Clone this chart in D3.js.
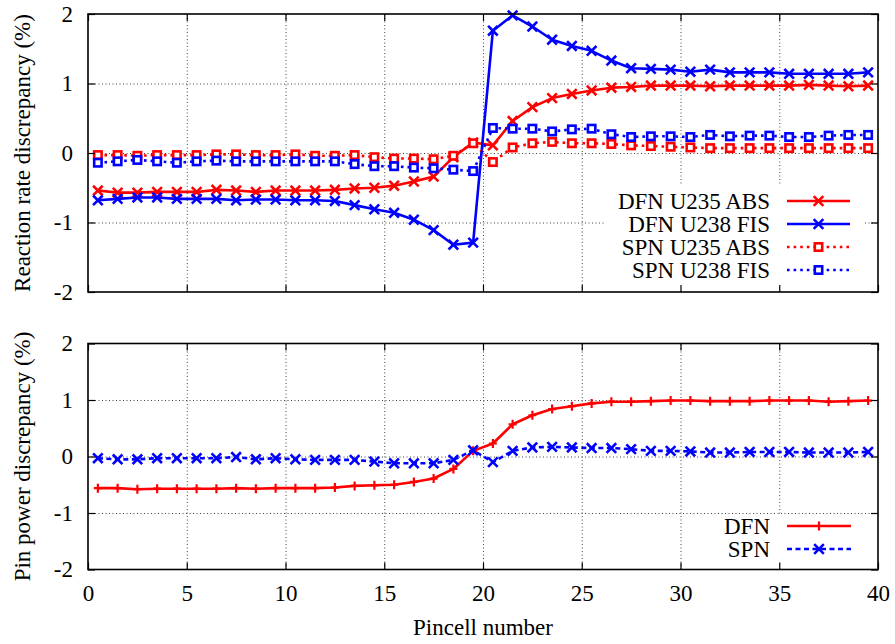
<!DOCTYPE html>
<html>
<head>
<meta charset="utf-8">
<script src="https://cdn.jsdelivr.net/npm/d3@7/dist/d3.min.js"></script>
<style>
  html, body { margin: 0; padding: 0; background: #fff; }
  svg { display: block; }
  svg text { font-family: 'Liberation Serif', Tinos, 'Nimbus Roman', 'DejaVu Serif', serif !important; fill: #000; }
</style>
</head>
<body>
<svg id="chart" width="895" height="644"></svg>
<script>
// Pincell centres along the traverse
const pins = [0.5, 1.5, 2.5, 3.5, 4.5, 5.5, 6.5, 7.5, 8.5, 9.5,
  10.5, 11.5, 12.5, 13.5, 14.5, 15.5, 16.5, 17.5, 18.5, 19.5,
  20.5, 21.5, 22.5, 23.5, 24.5, 25.5, 26.5, 27.5, 28.5, 29.5,
  30.5, 31.5, 32.5, 33.5, 34.5, 35.5, 36.5, 37.5, 38.5, 39.5];

// Reaction rate discrepancy (%)
const dfnU235Abs = [-0.54, -0.57, -0.57, -0.56, -0.56, -0.56, -0.53, -0.54, -0.56, -0.54,
  -0.54, -0.54, -0.53, -0.51, -0.50, -0.47, -0.41, -0.34, -0.06, 0.15,
  0.11, 0.46, 0.66, 0.79, 0.85, 0.90, 0.94, 0.95, 0.97, 0.97,
  0.97, 0.96, 0.97, 0.97, 0.97, 0.97, 0.98, 0.97, 0.96, 0.97];
const dfnU238Fis = [-0.68, -0.66, -0.64, -0.64, -0.66, -0.66, -0.66, -0.68, -0.67, -0.67,
  -0.68, -0.68, -0.69, -0.75, -0.81, -0.86, -0.96, -1.11, -1.32, -1.29,
  1.76, 1.98, 1.82, 1.63, 1.54, 1.47, 1.33, 1.22, 1.21, 1.20,
  1.17, 1.20, 1.16, 1.16, 1.16, 1.14, 1.14, 1.14, 1.14, 1.16];
const spnU235Abs = [-0.03, -0.03, -0.04, -0.03, -0.03, -0.03, -0.02, -0.02, -0.03, -0.03,
  -0.02, -0.04, -0.04, -0.03, -0.06, -0.08, -0.08, -0.09, -0.04, 0.14,
  -0.13, 0.08, 0.14, 0.16, 0.14, 0.14, 0.13, 0.11, 0.10, 0.09,
  0.08, 0.07, 0.07, 0.07, 0.07, 0.07, 0.07, 0.07, 0.07, 0.07];
const spnU238Fis = [-0.14, -0.12, -0.10, -0.12, -0.14, -0.12, -0.11, -0.12, -0.12, -0.12,
  -0.12, -0.12, -0.12, -0.16, -0.19, -0.19, -0.21, -0.22, -0.24, -0.26,
  0.36, 0.35, 0.35, 0.31, 0.34, 0.35, 0.27, 0.23, 0.24, 0.24,
  0.23, 0.26, 0.24, 0.25, 0.25, 0.23, 0.23, 0.25, 0.26, 0.26];

// Pin power discrepancy (%)
const dfnPower = [-0.56, -0.56, -0.58, -0.57, -0.57, -0.57, -0.57, -0.56, -0.57, -0.56,
  -0.56, -0.56, -0.55, -0.52, -0.51, -0.50, -0.45, -0.39, -0.22, 0.10,
  0.23, 0.57, 0.73, 0.84, 0.89, 0.94, 0.97, 0.97, 0.98, 0.99,
  0.99, 0.98, 0.98, 0.98, 0.99, 0.99, 0.99, 0.97, 0.98, 0.99];
const spnPower = [-0.03, -0.05, -0.05, -0.03, -0.03, -0.03, -0.03, -0.01, -0.05, -0.03,
  -0.05, -0.06, -0.06, -0.06, -0.09, -0.12, -0.12, -0.12, -0.06, 0.11,
  -0.10, 0.10, 0.16, 0.17, 0.16, 0.15, 0.15, 0.13, 0.10, 0.10,
  0.09, 0.07, 0.07, 0.08, 0.08, 0.08, 0.07, 0.07, 0.07, 0.08];

const xTicks = [0, 5, 10, 15, 20, 25, 30, 35, 40];
const yTicks = [-2, -1, 0, 1, 2];

const RED = "#ff0000", BLUE = "#0000ff";
const FONT = 23;
const FAMILY = "'Liberation Serif', Tinos, 'Nimbus Roman', 'DejaVu Serif', serif";
const plain = d => String(d);   // hyphen-minus, as on a gnuplot axis

const svg = d3.select("#chart");
const x = d3.scaleLinear().domain([0, 40]).range([88, 878]);

// marker glyphs
function drawMarker(g, type, color) {
  if (type === "cross") {
    g.append("path").attr("d", "M-4.8,-4.8L4.8,4.8M-4.8,4.8L4.8,-4.8")
      .attr("stroke", color).attr("stroke-width", 2.6).attr("fill", "none");
  } else if (type === "square") {
    g.append("rect").attr("x", -3.7).attr("y", -3.7).attr("width", 7.4).attr("height", 7.4)
      .attr("stroke", color).attr("stroke-width", 2.6).attr("fill", "#fff");
  } else if (type === "plus") {
    g.append("path").attr("d", "M-4,0L4,0M0,-4.5L0,4.5")
      .attr("stroke", color).attr("stroke-width", 2.2).attr("fill", "none");
  }
}

function panel(cfg) {
  const y = d3.scaleLinear().domain([-2, 2]).range([cfg.bottom, cfg.top]);
  const g = svg.append("g");
  const w = x.range()[1] - x.range()[0];
  const h = cfg.bottom - cfg.top;

  // dotted grid
  const grid = g.append("g").attr("class", "grid");
  grid.append("g").attr("transform", `translate(0,${cfg.bottom})`)
    .call(d3.axisBottom(x).tickValues(xTicks.filter(t => t > 0 && t < 40)).tickSize(-h).tickFormat(""))
    .call(s => s.select(".domain").remove());
  grid.append("g").attr("transform", `translate(${x(0)},0)`)
    .call(d3.axisLeft(y).tickValues(yTicks.filter(t => t > -2 && t < 2)).tickSize(-w).tickFormat(""))
    .call(s => s.select(".domain").remove());
  grid.selectAll("line").attr("stroke", "#444").attr("stroke-width", 1).attr("stroke-dasharray", "1,2.5");

  // legend background (opaque key box)
  g.append("rect").attr("x", cfg.legend.box[0]).attr("y", cfg.legend.box[1])
    .attr("width", cfg.legend.box[2]).attr("height", cfg.legend.box[3]).attr("fill", "#fff");

  // series
  cfg.series.forEach(s => {
    const pts = pins.map((p, i) => [p, s.values[i]]);
    g.append("path").datum(pts)
      .attr("d", d3.line().x(d => x(d[0])).y(d => y(d[1])))
      .attr("fill", "none").attr("stroke", s.color).attr("stroke-width", 2.6)
      .attr("stroke-dasharray", s.dash || null).attr("stroke-linejoin", "round");
    const mk = g.append("g");
    pts.forEach(d => {
      const m = mk.append("g").attr("transform", `translate(${x(d[0])},${y(d[1])})`);
      drawMarker(m, s.marker, s.color);
    });
  });

  // legend entries
  const lg = g.append("g");
  cfg.series.forEach((s, i) => {
    const yy = cfg.legend.y0 + i * cfg.legend.dy;
    lg.append("text").attr("x", cfg.legend.textX).attr("y", yy).attr("dy", "0.35em")
      .attr("text-anchor", "end").attr("font-size", FONT).attr("font-family", FAMILY).text(s.name);
    lg.append("line").attr("x1", cfg.legend.lineX[0]).attr("x2", cfg.legend.lineX[1])
      .attr("y1", yy).attr("y2", yy).attr("stroke", s.color).attr("stroke-width", 2.6)
      .attr("stroke-dasharray", s.dash || null);
    const m = lg.append("g").attr("transform",
      `translate(${(cfg.legend.lineX[0] + cfg.legend.lineX[1]) / 2},${yy})`);
    drawMarker(m, s.marker, s.color);
  });

  // inward ticks on all four sides
  const tk = g.append("g");
  tk.append("g").attr("transform", `translate(${x(0)},0)`)
    .call(d3.axisLeft(y).tickValues(yTicks).tickSize(-7).tickPadding(15).tickFormat(plain));
  tk.append("g").attr("transform", `translate(${x(40)},0)`)
    .call(d3.axisRight(y).tickValues(yTicks).tickSize(-7).tickFormat(""));
  tk.append("g").attr("transform", `translate(0,${cfg.top})`)
    .call(d3.axisTop(x).tickValues(xTicks).tickSize(-7).tickFormat(""));
  tk.append("g").attr("transform", `translate(0,${cfg.bottom})`)
    .call(d3.axisBottom(x).tickValues(xTicks).tickSize(-7).tickPadding(15)
      .tickFormat(cfg.xLabels ? plain : ""));
  tk.selectAll(".domain").remove();
  tk.selectAll("g").attr("font-family", FAMILY).attr("font-size", FONT);
  tk.selectAll("line").attr("stroke", "#000").attr("stroke-width", 1.2);
  tk.selectAll("text").attr("font-size", FONT).attr("font-family", FAMILY).attr("fill", "#000");

  // frame
  g.append("rect").attr("x", x(0)).attr("y", cfg.top).attr("width", w).attr("height", h)
    .attr("fill", "none").attr("stroke", "#000").attr("stroke-width", 1.6);

  // y axis title
  g.append("text").attr("transform", `translate(22,${(cfg.top + cfg.bottom) / 2}) rotate(-90)`)
    .attr("text-anchor", "middle").attr("dy", "0.35em").attr("font-size", FONT)
    .attr("font-family", FAMILY).text(cfg.yTitle);
}

panel({
  top: 14, bottom: 292,
  yTitle: "Reaction rate discrepancy (%)",
  xLabels: false,
  legend: { box: [604, 186, 260, 104], y0: 201, dy: 23, textX: 770, lineX: [787, 850] },
  series: [
    { name: "DFN U235 ABS", values: dfnU235Abs, color: RED, marker: "cross" },
    { name: "DFN U238 FIS", values: dfnU238Fis, color: BLUE, marker: "cross" },
    { name: "SPN U235 ABS", values: spnU235Abs, color: RED, marker: "square", dash: "2.6,4" },
    { name: "SPN U238 FIS", values: spnU238Fis, color: BLUE, marker: "square", dash: "2.6,4" }
  ]
});

panel({
  top: 343.5, bottom: 569.5,
  yTitle: "Pin power discrepancy (%)",
  xLabels: true,
  legend: { box: [718, 514, 146, 54], y0: 526, dy: 23, textX: 770, lineX: [787, 851] },
  series: [
    { name: "DFN", values: dfnPower, color: RED, marker: "plus" },
    { name: "SPN", values: spnPower, color: BLUE, marker: "cross", dash: "5,3.5" }
  ]
});

// x axis title
svg.append("text").attr("x", 483).attr("y", 635)
  .attr("text-anchor", "middle").attr("font-size", FONT).attr("font-family", FAMILY)
  .text("Pincell number");
</script>
</body>
</html>
